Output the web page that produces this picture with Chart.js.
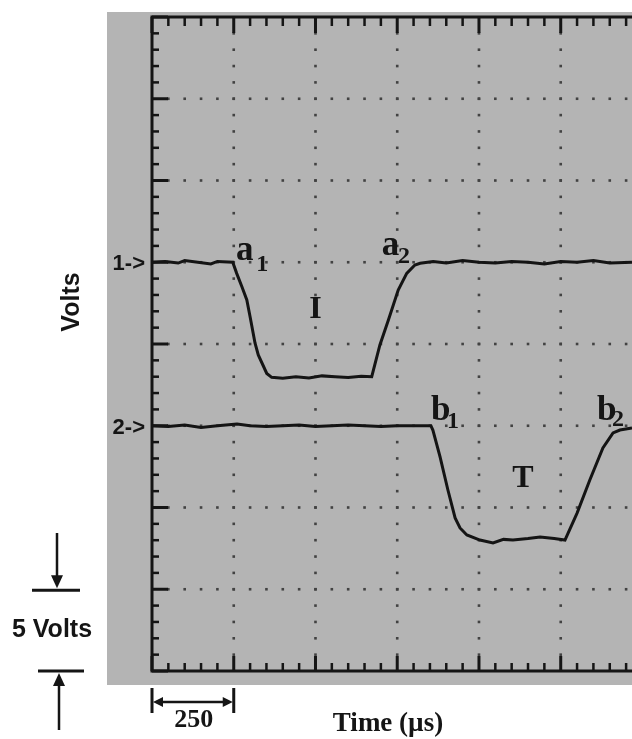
<!DOCTYPE html>
<html>
<head>
<meta charset="utf-8">
<script src="https://cdn.jsdelivr.net/npm/chart.js@4"></script>
<style>
  html, body { margin: 0; padding: 0; background: #fff; }
  #wrap { width: 632px; height: 739px; position: relative; }
</style>
</head>
<body>
<div id="wrap"><canvas id="scope"></canvas></div>
<script>
// trace 1 (current, channel 1) - time in us, volts
const time1 = [0, 40, 80, 100, 140, 180, 200, 247, 259, 275, 290, 300, 315, 325, 351, 366, 400, 440, 480, 520, 560, 600, 640, 672, 697, 723, 753, 779, 804, 820, 860, 900, 950, 1000, 1050, 1100, 1150, 1200, 1250, 1300, 1350, 1400, 1468];
const volts1 = [25, 25.05, 24.95, 25.1, 25, 24.9, 25.05, 25, 24.32, 23.5, 22.69, 21.67, 20.06, 19.33, 18.2, 17.96, 17.9, 18.0, 17.92, 18.05, 18.0, 17.95, 18.02, 18.0, 19.94, 21.47, 23.3, 24.32, 24.83, 24.94, 25.05, 24.95, 25.1, 25, 24.95, 25.05, 25, 24.9, 25.05, 25, 25.1, 24.95, 25];

// trace 2 (torque, channel 2)
const time2 = [0, 50, 100, 150, 200, 260, 300, 350, 400, 450, 500, 550, 600, 650, 700, 750, 800, 853, 859, 881, 905, 927, 942, 963, 1003, 1043, 1075, 1104, 1150, 1187, 1230, 1263, 1300, 1339, 1379, 1410, 1431, 1468];
const volts2 = [15, 14.95, 15.05, 14.9, 15, 15.1, 15, 14.95, 15, 15.05, 14.95, 15, 15.05, 15, 14.95, 15, 15, 15, 14.74, 13.09, 11.07, 9.36, 8.75, 8.32, 8.01, 7.83, 8.05, 8.01, 8.1, 8.2, 8.1, 8.01, 9.66, 11.68, 13.64, 14.56, 14.74, 14.86];

// axis divisions
const xMajorTicks = [0, 250, 500, 750, 1000, 1250, 1500];
const yMajorTicks = [0, 5, 10, 15, 20, 25, 30, 35, 40];
const xMinorStep = 50;
const yMinorStep = 1;

function toPoints(xs, ys) {
    return xs.map((x, i) => ({ x: x, y: ys[i] }));
}

const SERIF = "bold 35px 'Liberation Serif', 'Times New Roman', serif";
const SERIF_CAP = "bold 32px 'Liberation Serif', 'Times New Roman', serif";
const SERIF_SUB = "bold 24px 'Liberation Serif', 'Times New Roman', serif";
const SANS = "'Liberation Sans', Arial, sans-serif";

// gray screen behind the plot
const screenPlugin = {
    id: "screen",
    beforeDraw(chart) {
        const { ctx, chartArea: a } = chart;
        ctx.save();
        ctx.fillStyle = "#b4b4b4";
        ctx.fillRect(a.left - 45, a.top - 5, chart.width - (a.left - 45), a.bottom - a.top + 19);

        // dotted graticule on the major divisions
        const xs = chart.scales.x, ys = chart.scales.y;
        ctx.fillStyle = "#424242";
        xMajorTicks.forEach(t => {
            if (t === 0 || t > xs.max) return;
            const px = xs.getPixelForValue(t);
            for (let v = yMinorStep; v < ys.max; v += yMinorStep) {
                ctx.fillRect(px - 1.3, ys.getPixelForValue(v) - 1.3, 2.6, 2.6);
            }
        });
        yMajorTicks.forEach(v => {
            if (v === 0 || v === ys.max) return;
            const py = ys.getPixelForValue(v);
            for (let t = xMinorStep; t <= xs.max; t += xMinorStep) {
                ctx.fillRect(xs.getPixelForValue(t) - 1.3, py - 1.3, 2.6, 2.6);
            }
        });
        ctx.restore();
    }
};

function arrowHead(ctx, x, y, dx, dy, len, half) {
    // tip at (x,y), pointing along (dx,dy)
    ctx.beginPath();
    ctx.moveTo(x, y);
    ctx.lineTo(x - dx * len - dy * half, y - dy * len - dx * half);
    ctx.lineTo(x - dx * len + dy * half, y - dy * len + dx * half);
    ctx.closePath();
    ctx.fill();
}

// frame, ticks and the annotations
const framePlugin = {
    id: "frame",
    afterDraw(chart) {
        const { ctx, chartArea: a } = chart;
        const xs = chart.scales.x, ys = chart.scales.y;
        ctx.save();
        ctx.strokeStyle = "#151515";
        ctx.fillStyle = "#151515";

        // frame (right side is cut off)
        ctx.lineWidth = 3;
        ctx.beginPath();
        ctx.moveTo(chart.width, a.top);
        ctx.lineTo(a.left, a.top);
        ctx.lineTo(a.left, a.bottom);
        ctx.lineTo(chart.width, a.bottom);
        ctx.stroke();

        // x ticks top and bottom
        for (let t = 0; t <= xs.max; t += xMinorStep) {
            const px = xs.getPixelForValue(t);
            const major = xMajorTicks.includes(t);
            ctx.lineWidth = major ? 3 : 2.5;
            ctx.beginPath();
            ctx.moveTo(px, a.top);
            ctx.lineTo(px, a.top + (major ? 16 : 9));
            ctx.moveTo(px, a.bottom);
            ctx.lineTo(px, a.bottom - (major ? 15 : 8));
            ctx.stroke();
        }
        // y ticks on the left
        for (let v = 0; v <= ys.max; v += yMinorStep) {
            const py = ys.getPixelForValue(v);
            const major = yMajorTicks.includes(v);
            ctx.lineWidth = major ? 3 : 2.5;
            ctx.beginPath();
            ctx.moveTo(a.left, py);
            ctx.lineTo(a.left + (major ? 16 : 7), py);
            ctx.stroke();
        }

        // channel markers
        ctx.font = "bold 22px " + SANS;
        ctx.textAlign = "right";
        ctx.textBaseline = "alphabetic";
        ctx.fillText("1->", a.left - 7, ys.getPixelForValue(25) + 8);
        ctx.fillText("2->", a.left - 7, ys.getPixelForValue(15) + 8);

        // Volts label
        ctx.save();
        ctx.translate(70, 302);
        ctx.rotate(-Math.PI / 2);
        ctx.textAlign = "center";
        ctx.font = "bold 25px " + SANS;
        ctx.fillText("Volts", 0, 9);
        ctx.restore();

        // 5 Volts scale marker
        const y5 = ys.getPixelForValue(5), y0 = ys.getPixelForValue(0);
        ctx.lineWidth = 3;
        ctx.beginPath();
        ctx.moveTo(32, y5 + 1); ctx.lineTo(80, y5 + 1);
        ctx.moveTo(38, y0); ctx.lineTo(84, y0);
        ctx.stroke();
        ctx.lineWidth = 2.5;
        ctx.beginPath();
        ctx.moveTo(57, 533); ctx.lineTo(57, y5 - 10);
        ctx.moveTo(59, y0 + 12); ctx.lineTo(59, 730);
        ctx.stroke();
        arrowHead(ctx, 57, y5 - 1, 0, 1, 13, 6);
        arrowHead(ctx, 59, y0 + 2, 0, -1, 13, 6);
        ctx.font = "bold 25px " + SANS;
        ctx.textAlign = "center";
        ctx.fillText("5 Volts", 52, 637);

        // 250 us dimension
        const x0 = xs.getPixelForValue(0), x250 = xs.getPixelForValue(250);
        ctx.lineWidth = 3;
        ctx.beginPath();
        ctx.moveTo(x0, 688); ctx.lineTo(x0, 713);
        ctx.moveTo(x250, 688); ctx.lineTo(x250, 713);
        ctx.stroke();
        ctx.lineWidth = 2.5;
        ctx.beginPath();
        ctx.moveTo(x0 + 8, 702); ctx.lineTo(x250 - 8, 702);
        ctx.stroke();
        arrowHead(ctx, x0 + 1, 702, -1, 0, 10, 5);
        arrowHead(ctx, x250 - 1, 702, 1, 0, 10, 5);
        ctx.font = "bold 26px 'Liberation Serif', 'Times New Roman', serif";
        ctx.fillText("250", (x0 + x250) / 2 + 1, 727);

        ctx.font = "bold 27px 'Liberation Serif', 'Times New Roman', serif";
        ctx.fillText("Time (\u00b5s)", 388, 731);

        // point labels on the traces
        ctx.textAlign = "left";
        const lab = (main, sub, t, v, st, sv) => {
            ctx.font = sub ? SERIF : SERIF_CAP;
            ctx.fillText(main, xs.getPixelForValue(t), ys.getPixelForValue(v));
            if (sub) {
                ctx.font = SERIF_SUB;
                ctx.fillText(sub, xs.getPixelForValue(st), ys.getPixelForValue(sv));
            }
        };
        lab("a", "1", 257, 25.14, 319, 24.46);
        lab("a", "2", 703, 25.44, 752, 24.98);
        lab("b", "1", 853, 15.35, 902, 14.86);
        lab("b", "2", 1361, 15.35, 1407, 14.98);
        lab("I", null, 481, 21.59);
        lab("T", null, 1102, 11.25);

        ctx.restore();
    }
};

new Chart(document.getElementById("scope"), {
    type: "line",
    data: {
        datasets: [
            { label: "Channel 1", data: toPoints(time1, volts1), borderColor: "#141414", borderWidth: 3 },
            { label: "Channel 2", data: toPoints(time2, volts2), borderColor: "#141414", borderWidth: 3 }
        ]
    },
    options: {
        responsive: true,
        maintainAspectRatio: false,
        animation: false,
        devicePixelRatio: 1,
        layout: { padding: { left: 152, top: 17, right: 0, bottom: 68 } },
        elements: { point: { radius: 0 }, line: { tension: 0 } },
        plugins: { legend: { display: false }, tooltip: { enabled: false } },
        scales: {
            x: { type: "linear", min: 0, max: 1468, display: false },
            y: { type: "linear", min: 0, max: 40, display: false }
        }
    },
    plugins: [screenPlugin, framePlugin]
});
</script>
</body>
</html>
